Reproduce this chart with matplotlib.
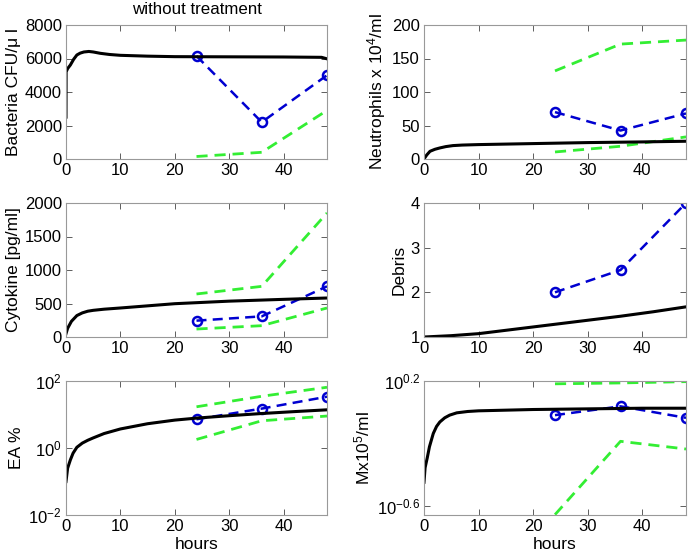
import matplotlib
matplotlib.use("Agg")
import matplotlib.pyplot as plt
from matplotlib.ticker import FixedLocator, FixedFormatter, NullLocator

plt.rcParams['font.family'] = ['Liberation Sans', 'DejaVu Sans']
plt.rcParams['mathtext.fontset'] = 'custom'
plt.rcParams['mathtext.rm'] = 'Liberation Sans'
plt.rcParams['mathtext.it'] = 'Liberation Sans:italic'
plt.rcParams['font.size'] = 12

# data time points
obs_t = [24, 36, 48]

# bacteria
bac_t = [0, 0.02, 0.3, 0.8, 1.4, 2, 2.6, 3.3, 4.2, 5, 6.3, 8, 10, 15, 20, 30, 40, 47, 48]
bac_model = [2500, 5200, 5400, 5610, 5950, 6210, 6320, 6390, 6420, 6390, 6310, 6240, 6190, 6140, 6110, 6100, 6090, 6070, 5980]
bac_mean = [6150, 2200, 5000]
bac_upper = [9000, 9000, 9000]
bac_lower = [150, 400, 2900]

# neutrophils
neu_t = [0, 0.5, 1.1, 2, 2.9, 4, 5.3, 7, 10, 20, 30, 40, 48]
neu_model = [0, 6, 11.5, 14.5, 16.5, 18.5, 20, 20.8, 21.5, 23, 24.5, 25.5, 26.5]
neu_mean = [70, 42.5, 68]
neu_upper = [131.5, 171.5, 177.5]
neu_lower = [10.5, 19, 33]

# cytokine
cyt_t = [0, 0.3, 1, 2, 3, 4, 5, 7, 10, 20, 30, 40, 48]
cyt_model = [50, 130, 234, 320, 360, 385, 398, 415, 433, 497, 535, 562, 582]
cyt_mean = [244, 308, 756]
cyt_upper = [642, 756, 1851]
cyt_lower = [119, 169, 433]

# debris
deb_t = [0, 5, 10, 15, 20, 25, 30, 36, 42, 48]
deb_model = [1.0, 1.03, 1.075, 1.15, 1.225, 1.3, 1.375, 1.465, 1.565, 1.675]
deb_mean = [2, 2.5, 4]

# EA %
ea_t = [0, 0.3, 0.8, 1.3, 2, 3, 4, 5, 7, 10, 15, 20, 24, 30, 36, 42, 48]
ea_model = [0.1, 0.25, 0.44, 0.7, 1.05, 1.4, 1.7, 2.0, 2.7, 3.7, 5.3, 6.8, 7.8, 9.2, 10.7, 12.2, 13.8]
ea_mean = [7.2, 15, 34]
ea_upper = [17, 35, 65]
ea_lower = [1.8, 6.5, 9]

# macrophages
mx_t = [0, 0.2, 0.6, 1.0, 1.7, 2.3, 2.9, 3.8, 4.7, 6, 8, 10, 20, 30, 40, 48]
mx_model = [0.355, 0.44, 0.51, 0.6, 0.73, 0.81, 0.865, 0.92, 0.957, 0.99, 1.01, 1.02, 1.04, 1.05, 1.06, 1.06]
mx_mean = [0.957, 1.09, 0.92]
mx_upper = [1.52, 1.54, 1.57]
mx_lower = [0.22, 0.65, 0.58]

blue = '#0000d0'
green = '#33ee33'
spine_c = '#999999'

fig = plt.figure(figsize=(6.93, 5.56), dpi=100)

w_l, w_r = 261 / 693, 262 / 693
h = 134 / 556
lefts = [66 / 693, 424 / 693]
bottoms = [1 - 159 / 556, 1 - 337 / 556, 1 - 515 / 556]

panels = [
    (bac_t, bac_model, bac_mean, [bac_upper, bac_lower], 'Bacteria CFU/μ l'),
    (neu_t, neu_model, neu_mean, [neu_upper, neu_lower], 'Neutrophils x 10$^4$/ml'),
    (cyt_t, cyt_model, cyt_mean, [cyt_upper, cyt_lower], 'Cytokine [pg/ml]'),
    (deb_t, deb_model, deb_mean, [], 'Debris'),
    (ea_t, ea_model, ea_mean, [ea_upper, ea_lower], 'EA %'),
    (mx_t, mx_model, mx_mean, [mx_upper, mx_lower], 'Mx10$^5$/ml'),
]

axes = []
for i, (t, model, mean, bounds, label) in enumerate(panels):
    row, col = divmod(i, 2)
    ax = fig.add_axes([lefts[col], bottoms[row], w_l if col == 0 else w_r, h])
    axes.append(ax)
    for b in bounds:
        ax.plot(obs_t, b, '--', color=green, lw=2, dashes=(4, 2.5))
    ax.plot(obs_t, mean, '--o', color=blue, lw=1.8, ms=6.5, mfc='none', mew=1.8,
            dashes=(4, 2.5))
    ax.plot(t, model, '-', color='black', lw=2.2)
    ax.set_xlim(0, 48)
    ax.set_xticks([0, 10, 20, 30, 40])
    ax.set_ylabel(label, fontsize=12.5, labelpad=3)
    ax.tick_params(direction='in', top=True, right=True, length=4, width=0.6,
                   color='#444444', labelsize=12, pad=3)
    for s in ax.spines.values():
        s.set_color(spine_c)
        s.set_linewidth(0.8)
    if row == 2:
        ax.set_xlabel('hours', fontsize=12.5, labelpad=2)

axes[0].set_ylim(0, 8000)
axes[0].set_yticks([0, 2000, 4000, 6000, 8000])
axes[0].set_title('without treatment', fontsize=12.2, pad=8)
axes[1].set_ylim(0, 200)
axes[1].set_yticks([0, 50, 100, 150, 200])
axes[2].set_ylim(0, 2000)
axes[2].set_yticks([0, 500, 1000, 1500, 2000])
axes[3].set_ylim(1, 4)
axes[3].set_yticks([1, 2, 3, 4])

axes[4].set_yscale('log')
axes[4].set_ylim(1e-2, 1e2)
axes[4].yaxis.set_major_locator(FixedLocator([1e-2, 1e0, 1e2]))
axes[4].yaxis.set_major_formatter(FixedFormatter(['$10^{-2}$', '$10^{0}$', '$10^{2}$']))
axes[4].yaxis.set_minor_locator(NullLocator())

axes[5].set_yscale('log')
axes[5].set_ylim(10 ** -0.66, 10 ** 0.2)
axes[5].yaxis.set_major_locator(FixedLocator([10 ** -0.6, 10 ** 0.2]))
axes[5].yaxis.set_major_formatter(FixedFormatter(['$10^{-0.6}$', '$10^{0.2}$']))
axes[5].yaxis.set_minor_locator(NullLocator())

fig.savefig('out.png', dpi=100)
